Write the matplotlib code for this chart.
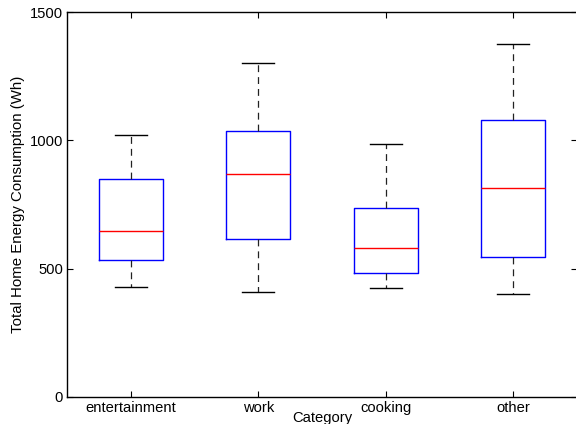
import matplotlib
matplotlib.use("Agg")
import matplotlib.pyplot as plt

plt.rcParams["font.family"] = ["Liberation Sans", "DejaVu Sans"]

categories = ["entertainment", "work", "cooking", "other"]
whisker_lo = [427, 410, 425, 403]
q1 = [532, 614, 484, 545]
median = [645, 869, 580, 813]
q3 = [848, 1035, 735, 1079]
whisker_hi = [1020, 1300, 984, 1377]

stats = [
    {"label": c, "whislo": lo, "q1": a, "med": m, "q3": b, "whishi": hi, "fliers": []}
    for c, lo, a, m, b, hi in zip(categories, whisker_lo, q1, median, q3, whisker_hi)
]

fig = plt.figure(figsize=(5.76, 4.24), dpi=100)
ax = fig.add_axes([67 / 576, 27 / 424, 510 / 576, 385 / 424])

ax.bxp(
    stats,
    widths=0.5,
    showfliers=False,
    boxprops=dict(color="blue", linewidth=1.0),
    medianprops=dict(color="red", linewidth=1.0),
    whiskerprops=dict(color="#222222", linewidth=0.9, linestyle=(0, (5.5, 4))),
    capprops=dict(color="black", linewidth=1.0),
    capwidths=0.25,
)

ax.set_xlim(0.5, 4.5)
ax.set_ylim(0, 1500)
ax.set_yticks([0, 500, 1000, 1500])
ax.tick_params(direction="in", top=True, right=True, length=4, labelsize=10.6, pad=3)
for s in ax.spines.values():
    s.set_linewidth(1.0)

ax.set_xlabel("Category", fontsize=10.6, labelpad=-3)
ax.set_ylabel("Total Home Energy Consumption (Wh)", fontsize=10.8, labelpad=3)

fig.savefig("out.png", dpi=100)
